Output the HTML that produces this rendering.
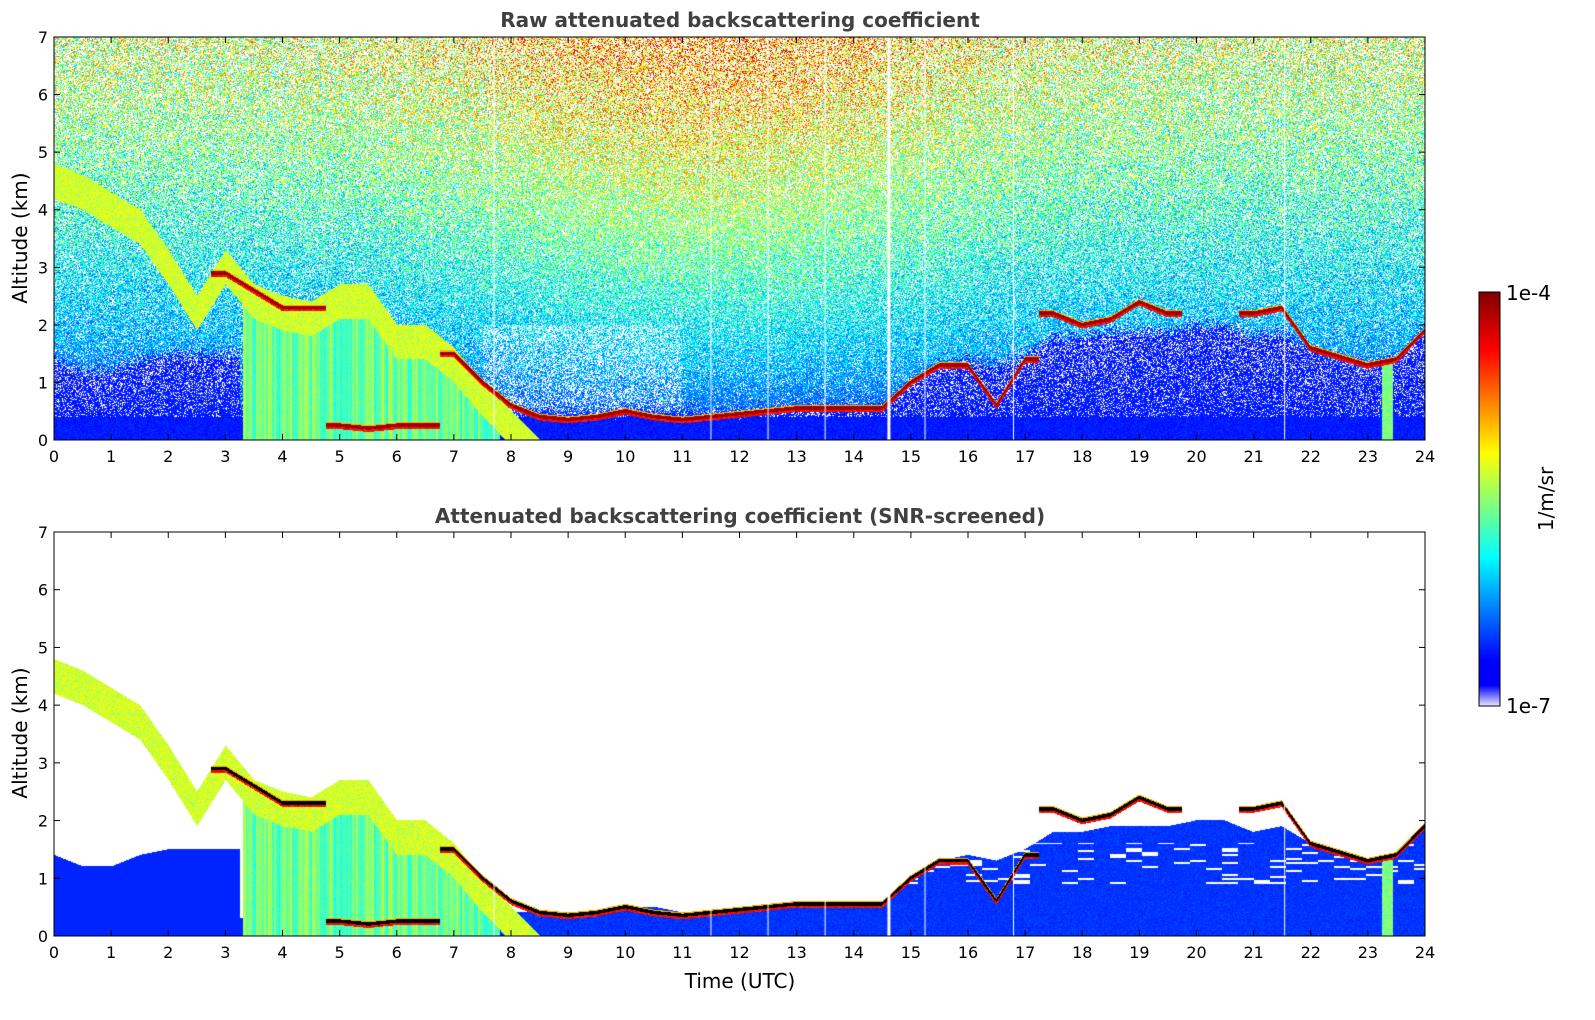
<!DOCTYPE html>
<html><head><meta charset="utf-8">
<style>
body{margin:0;background:#fff;width:1595px;height:1020px;overflow:hidden;font-family:"Liberation Sans","DejaVu Sans",sans-serif;}
svg text{font-family:"DejaVu Sans","Liberation Sans",sans-serif;}
canvas{position:absolute;}
</style></head>
<body>
<canvas id="c1" width="1371" height="403" style="left:54px;top:37px"></canvas>
<canvas id="c2" width="1371" height="404" style="left:54px;top:532px"></canvas>
<svg id="ov" width="1595" height="1020" style="position:absolute;left:0;top:0">
<defs><linearGradient id="jet" x1="0" y1="1" x2="0" y2="0">
<stop offset="0" stop-color="#e8e8ff"/><stop offset="0.05" stop-color="#0000ff"/><stop offset="0.11" stop-color="#0000ff"/>
<stop offset="0.36" stop-color="#00ffff"/><stop offset="0.61" stop-color="#ffff00"/><stop offset="0.86" stop-color="#ff0000"/><stop offset="1" stop-color="#800000"/></linearGradient></defs>
<text x="740" y="27" text-anchor="middle" font-size="20" font-weight="bold" fill="#404040">Raw attenuated backscattering coefficient</text>
<text x="740" y="523" text-anchor="middle" font-size="20" font-weight="bold" fill="#404040">Attenuated backscattering coefficient (SNR-screened)</text>
<text transform="translate(27,238) rotate(-90)" text-anchor="middle" font-size="20" fill="#000">Altitude (km)</text>
<text transform="translate(27,733) rotate(-90)" text-anchor="middle" font-size="20" fill="#000">Altitude (km)</text>
<text x="740" y="988" text-anchor="middle" font-size="20" fill="#000">Time (UTC)</text>
<rect x="1479" y="292" width="21" height="414" fill="url(#jet)" stroke="#000"/>
<text x="1506" y="300" font-size="20">1e-4</text>
<text x="1506" y="713" font-size="20">1e-7</text>
<text transform="translate(1553,499) rotate(-90)" text-anchor="middle" font-size="20">1/m/sr</text>
<g id="axes"></g>
</svg>
<script>
// Data (0.5 h resolution, 0..24 h), heights in km
const times = [0,0.5,1,1.5,2,2.5,3,3.5,4,4.5,5,5.5,6,6.5,7,7.5,8,8.5,9,9.5,10,10.5,11,11.5,12,12.5,13,13.5,14,14.5,15,15.5,16,16.5,17,17.5,18,18.5,19,19.5,20,20.5,21,21.5,22,22.5,23,23.5,24];
const cloudHeight = [null,null,null,null,null,null,2.9,2.6,2.3,2.3,0.25,0.2,0.25,0.25,1.5,1.0,0.6,0.4,0.35,0.4,0.5,0.4,0.35,0.4,0.45,0.5,0.55,0.55,0.55,0.55,1.0,1.3,1.3,0.6,1.4,2.2,2.0,2.1,2.4,2.2,null,null,2.2,2.3,1.6,1.45,1.3,1.4,1.9];
const aerosolTop = [4.8,4.6,4.3,4.0,3.3,2.5,3.3,2.7,2.5,2.4,2.7,2.7,2.0,2.0,1.6,1.0,0.5,0,0,0,0,0,0,0,0,0,0,0,0,0,0,0,0,0,0,0,0,0,0,0,0,0,0,0,0,0,0,0,0];
const blueTop = [1.4,1.2,1.2,1.4,1.5,1.5,1.5,0.3,0.3,0.3,0.3,0.3,0.3,0.3,0.3,0.3,0.4,0.4,0.4,0.4,0.5,0.5,0.4,0.4,0.45,0.5,0.55,0.55,0.55,0.55,1.0,1.3,1.4,1.3,1.5,1.8,1.8,1.9,1.9,1.9,2.0,2.0,1.8,1.9,1.6,1.4,1.3,1.4,1.9];
const yTicks = [0,1,2,3,4,5,6,7];
const xTicks = [0,1,2,3,4,5,6,7,8,9,10,11,12,13,14,15,16,17,18,19,20,21,22,23,24];

function interp(arr,t){const i=Math.min(47,Math.floor(t/0.5));const f=(t-times[i])/0.5;const a=arr[i],b=arr[i+1];
 if(a==null&&b==null)return null;if(a==null)return f>0.5?b:null;if(b==null)return f<0.5?a:null;
 if(Math.abs(a-b)>0.8)return f<0.5?a:b;return a+(b-a)*f;}
function hash(x,y){let h=(x*374761393+y*668265263)|0;h=(h^(h>>>13))*1274126177|0;return ((h^(h>>>16))>>>0)/4294967296;}
function jet(v){v=Math.max(0,Math.min(1,v));
 const r=Math.max(0,Math.min(1,1.5-Math.abs(4*v-3))),g=Math.max(0,Math.min(1,1.5-Math.abs(4*v-2))),b=Math.max(0,Math.min(1,1.5-Math.abs(4*v-1)));
 return [r*255,g*255,b*255];}
function draw(id,screened){
 const c=document.getElementById(id),ctx=c.getContext('2d'),W=c.width,H=c.height;
 const img=ctx.createImageData(W,H),d=img.data;
 for(let x=0;x<W;x++){const t=x/(W-1)*24;
  const ch=interp(cloudHeight,t),at=interp(aerosolTop,t),bt=interp(blueTop,t);
  const sun=Math.exp(-Math.pow((t-11.5)/4.5,2));const colv=hash(x>>1,7);
  for(let y=0;y<H;y++){const h=(H-1-y)/(H-1)*7;const n=hash(x,y);let v=null;
   if(!screened){
    const m=0.15+Math.pow(h/7,0.8)*(0.42+0.18*sun);
    v=m+(n-0.5)*0.4*(h/7+0.3);
    const wp=0.12+0.33*h/7+(t>7.5&&t<11&&h<2&&h>0.5?0.25:0);
    if(hash(y,x+999)<wp)v=null;
    const bb=Math.max(bt,0.45)+0.25*(hash(x,y+5)-0.5);
    if(h<bb){v=0.12+0.06*n;if(h>0.4&&hash(y+3,x)<0.12+(h/bb)*0.2)v=null;}
   } else {
    if(h<bt){v=0.15+0.05*n;if(h>0.9&&h<1.6&&hash(y>>1,x>>4)<0.15)v=null;}
   }
   if(at>0&&h<at){ if(h>at-0.6)v=0.58+0.12*(n-0.5);
     else if(t>3.3&&t<7.8)v=0.4+0.15*colv+0.05*(n-0.5);
     else if(screened)v=(h<bt?0.16:null);}
   if(t>23.25&&t<23.45&&h<1.4)v=0.45+0.1*n;
   if(ch!=null){const dd=h-ch;
    if(Math.abs(dd)<0.03)v=screened?-1:0.97;
    else if(dd<0&&dd>-0.07)v=0.82+0.1*n;
    else if(dd>0&&dd<0.05)v=0.7;}
   const k=(y*W+x)*4;
   if(v==null){d[k]=d[k+1]=d[k+2]=255;}
   else if(v<0){d[k]=d[k+1]=d[k+2]=0;}
   else{const col=jet(v);d[k]=col[0];d[k+1]=col[1];d[k+2]=col[2];}
   d[k+3]=255;}}
 ctx.putImageData(img,0,0);
 ctx.fillStyle='#fff';[7.7,11.5,12.5,13.5,14.6,15.25,16.8,21.55].forEach(t=>{ctx.fillRect(t/24*(W-1),0,t==14.6?3:1,H);});
}
draw('c1',false);draw('c2',true);
const NS='http://www.w3.org/2000/svg',g=document.getElementById('axes');
function el(tag,attrs,txt){const e=document.createElementNS(NS,tag);for(const k in attrs)e.setAttribute(k,attrs[k]);if(txt!=null)e.textContent=txt;g.appendChild(e);return e;}
[[37,440,'top'],[532,936,'bottom']].forEach(([y0,y1,p])=>{
 const fr=el('rect',{x:54,y:y0,width:1371,height:y1-y0,fill:'none',stroke:'#000','stroke-width':1});
 
 yTicks.forEach(v=>{const y=y1-v/7*(y1-y0);
  el('line',{x1:54,y1:y,x2:60,y2:y,stroke:'#000'});el('line',{x1:1425,y1:y,x2:1419,y2:y,stroke:'#000'});
  const tx=el('text',{x:48,y:y+6,'text-anchor':'end','font-size':16},String(v));
  });
 xTicks.forEach(v=>{const x=54+v/24*1371;
  el('line',{x1:x,y1:y1,x2:x,y2:y1-6,stroke:'#000'});el('line',{x1:x,y1:y0,x2:x,y2:y0+6,stroke:'#000'});
  const tx=el('text',{x:x,y:y1+22,'text-anchor':'middle','font-size':16},String(v));
  });
});
</script>
</body></html>
